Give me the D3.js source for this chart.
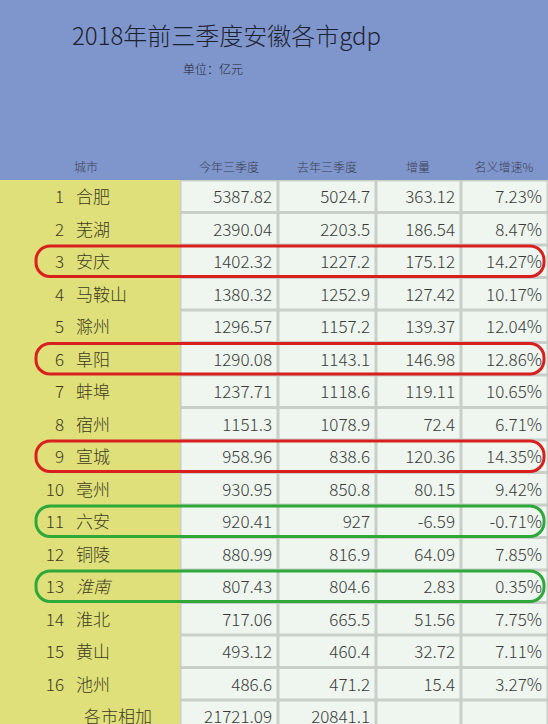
<!DOCTYPE html>
<html><head><meta charset="utf-8">
<script src="https://cdn.jsdelivr.net/npm/d3@7"></script>
<style>body{margin:0;background:#7f96cc;overflow:hidden}</style>
</head><body>
<svg id="chart" width="548" height="724"></svg>
<script>
// table data
var cities = ["合肥","芜湖","安庆","马鞍山","滁州","阜阳","蚌埠","宿州","宣城","亳州","六安","铜陵","淮南","淮北","黄山","池州"];
var thisYear = ["5387.82","2390.04","1402.32","1380.32","1296.57","1290.08","1237.71","1151.3","958.96","930.95","920.41","880.99","807.43","717.06","493.12","486.6"];
var lastYear = ["5024.7","2203.5","1227.2","1252.9","1157.2","1143.1","1118.6","1078.9","838.6","850.8","927","816.9","804.6","665.5","460.4","471.2"];
var increase = ["363.12","186.54","175.12","127.42","139.37","146.98","119.11","72.4","120.36","80.15","-6.59","64.09","2.83","51.56","32.72","15.4"];
var growth = ["7.23%","8.47%","14.27%","10.17%","12.04%","12.86%","10.65%","6.71%","14.35%","9.42%","-0.71%","7.85%","0.35%","7.75%","7.11%","3.27%"];
var headers = ["城市","今年三季度","去年三季度","增量","名义增速%"];
var totalRow = ["各市相加","21721.09","20841.1","",""];
var redRows = [3, 6, 9];
var greenRows = [11, 13];

var svg = d3.select("#chart");
var font = "'Noto Sans CJK SC', 'Noto Sans', sans-serif";

var rowIdx = d3.range(1, 18);
var y = d3.scaleBand().domain(rowIdx).range([180, 180 + 17 * 32.5]);
var colEdges = [0, 180, 278, 376, 461, 548];

svg.append("rect").attr("x", 0).attr("y", 0).attr("width", 548).attr("height", 180).attr("fill", "#7f96cc");
svg.append("text").attr("x", 72).attr("y", 45).attr("font-family", font).attr("font-size", 24)
  .attr("font-weight", 300).attr("fill", "#1e2230").text("2018年前三季度安徽各市gdp");
svg.append("text").attr("x", 183).attr("y", 74).attr("font-family", font).attr("font-size", 12)
  .attr("font-weight", 300).attr("fill", "#1e2230").text("单位：亿元");

// header labels
var headX = [74, 229, 327, 418, 504];
svg.selectAll("text.h").data(headers).enter().append("text")
  .attr("x", function(d, i) { return headX[i]; }).attr("y", 172)
  .attr("text-anchor", function(d, i) { return i == 0 ? "start" : "middle"; })
  .attr("font-family", font).attr("font-size", 12).attr("font-weight", 300)
  .attr("fill", "#3a3f55").text(function(d) { return d; });

// yellow city column
svg.append("rect").attr("x", 0).attr("y", 180).attr("width", 180).attr("height", 544).attr("fill", "#dfe07a");
svg.append("rect").attr("x", 180).attr("y", 180).attr("width", 368).attr("height", 544).attr("fill", "#c9cec9");

var rows = cities.map(function(c, i) {
  return [i + 1, c, thisYear[i], lastYear[i], increase[i], growth[i]];
});
rows.push(["", totalRow[0], totalRow[1], totalRow[2], totalRow[3], totalRow[4]]);

rows.forEach(function(r, i) {
  var yy = y(i + 1), h = y.bandwidth();
  for (var c = 1; c < 5; c++) {
    svg.append("rect").attr("x", colEdges[c] + 1.5).attr("y", yy + 1.5)
      .attr("width", colEdges[c + 1] - colEdges[c] - 3).attr("height", h - 3).attr("fill", "#eef6ef");
  }
  var cy = yy + h / 2 + 7;
  svg.append("text").attr("x", 64).attr("y", cy).attr("text-anchor", "end").attr("font-family", font)
    .attr("font-size", 17).attr("font-weight", 300).attr("fill", "#3d3a1e").text(r[0]);
  svg.append("text").attr("x", i == 16 ? 118 : 76).attr("y", cy)
    .attr("text-anchor", i == 16 ? "middle" : "start").attr("font-family", font).attr("font-weight", 300)
    .attr("font-size", 17).attr("fill", "#3d3a1e").attr("font-style", i == 12 ? "italic" : null).text(r[1]);
  for (var k = 2; k < 6; k++) {
    svg.append("text").attr("x", colEdges[k] - 6).attr("y", cy).attr("text-anchor", "end")
      .attr("font-family", font).attr("font-size", 17).attr("font-weight", 300)
      .attr("fill", "#3a3a3a").text(r[k]);
  }
});

// highlight rings
function ring(rowsList, color) {
  svg.selectAll(null).data(rowsList).enter().append("rect")
    .attr("x", 36).attr("y", function(d) { return y(d) + 1; })
    .attr("width", 508).attr("height", y.bandwidth() - 2).attr("rx", 14)
    .attr("fill", "none").attr("stroke", color).attr("stroke-width", 3);
}
ring(redRows, "#d8201e");
ring(greenRows, "#2fa83a");
</script>
</body></html>
